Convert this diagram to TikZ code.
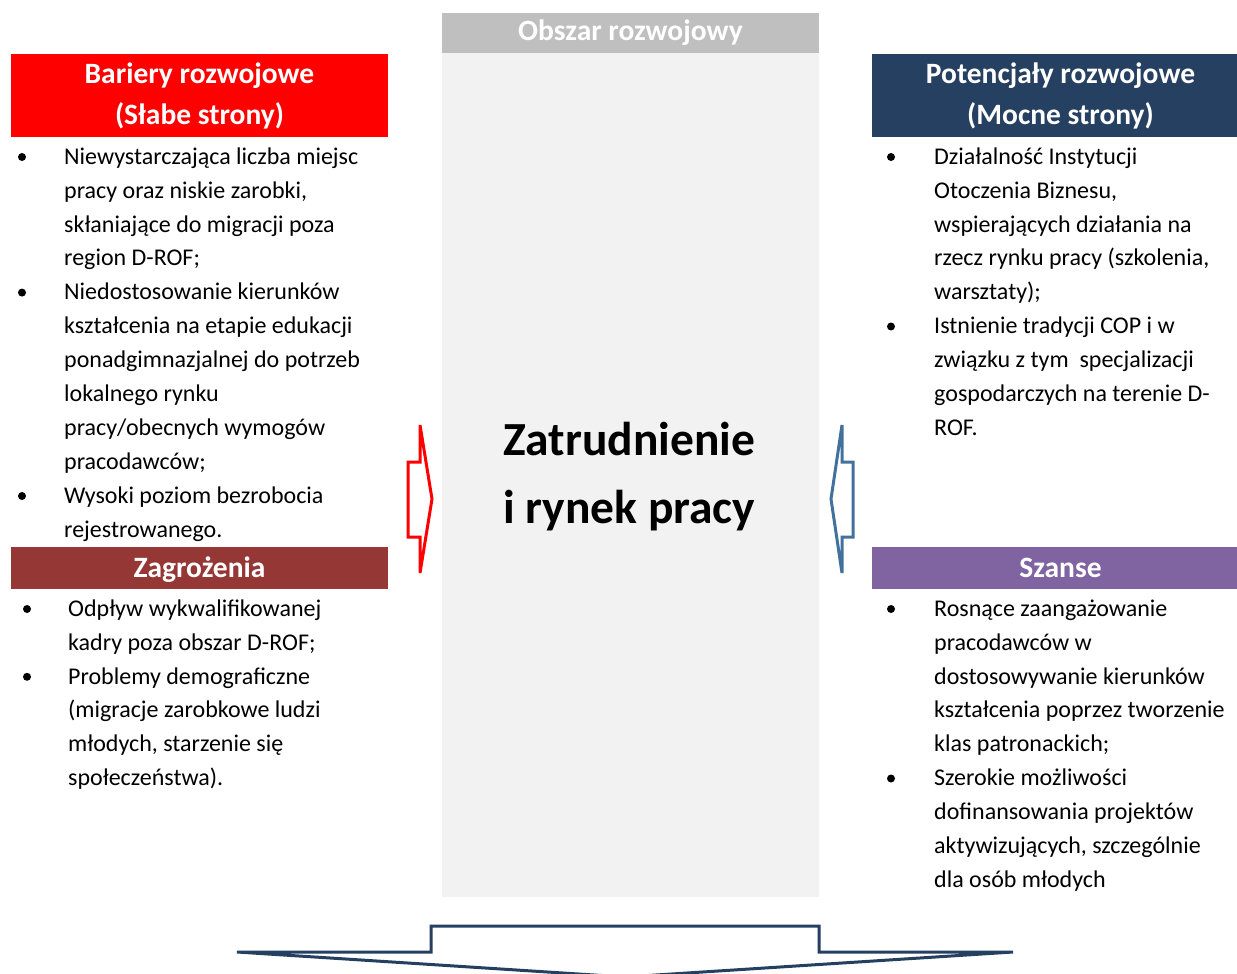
\documentclass[tikz,border=0pt]{standalone}
\usepackage{fontspec}
\setmainfont{Carlito}
\definecolor{cRed}{HTML}{FF0000}
\definecolor{cDarkRed}{HTML}{953735}
\definecolor{cNavy}{HTML}{254061}
\definecolor{cPurple}{HTML}{8064A2}
\definecolor{cGrayHead}{HTML}{BFBFBF}
\definecolor{cPanel}{HTML}{F2F2F2}
\definecolor{cSteel}{HTML}{41719C}
\definecolor{cArrowNavy}{HTML}{243F60}
\begin{document}
\begin{tikzpicture}[x=1pt,y=-1pt,
  bodytext/.style={anchor=north west, inner sep=0pt, align=left, font=\fontsize{24}{33.9}\selectfont},
  headtext/.style={anchor=base, inner sep=0pt, text=white, font=\fontsize{29.5}{40}\selectfont\bfseries},
  centertext/.style={anchor=north west, inner sep=0pt, align=left, font=\fontsize{47.5}{68}\selectfont\bfseries},
  bulletdot/.style={circle, fill=black, inner sep=0pt, minimum size=8pt},
  blockarrow/.style={line width=3pt, line join=miter, fill=white}
]
\useasboundingbox (0,0) rectangle (1237,974);
\clip (0,0) rectangle (1237,974);

% central panel
\fill[cPanel] (442,53) rectangle (819,897);
\fill[cGrayHead] (442,13) rectangle (819,53);
\node[headtext] (obszar) at (630.5,41) {Obszar rozwojowy};

% header boxes
\fill[cRed] (11,54) rectangle (388,137);
\node[headtext] (bar1) at (199.5,84) {Bariery rozwojowe};
\node[headtext] (bar2) at (199.5,124) {(Słabe strony)};

\fill[cNavy] (872,54) rectangle (1249,137);
\node[headtext] (pot1) at (1060.5,84) {Potencjały rozwojowe};
\node[headtext] (pot2) at (1060.5,124) {(Mocne strony)};

\fill[cDarkRed] (11,547) rectangle (388,589);
\node[headtext] (zag) at (199.5,577) {Zagrożenia};

\fill[cPurple] (872,547) rectangle (1249,589);
\node[headtext] (sza) at (1060.5,577) {Szanse};

% left: weaknesses
\node[bulletdot] (lb1) at (22,157) {};
\node[bodytext] (lt1) at (64,140.3) {\strut Niewystarczająca liczba miejsc\\\strut pracy oraz niskie zarobki,\\\strut skłaniające do migracji poza\\\strut region D-ROF;};
\node[bulletdot] (lb2) at (22,292.6) {};
\node[bodytext] (lt2) at (64,275.9) {\strut Niedostosowanie kierunków\\\strut kształcenia na etapie edukacji\\\strut ponadgimnazjalnej do potrzeb\\\strut lokalnego rynku\\\strut pracy/obecnych wymogów\\\strut pracodawców;};
\node[bulletdot] (lb3) at (22,496) {};
\node[bodytext] (lt3) at (64,479.3) {\strut Wysoki poziom bezrobocia\\\strut rejestrowanego.};

% left: threats
\node[bulletdot] (tb1) at (27,609) {};
\node[bodytext] (tt1) at (68,592.3) {\strut Odpływ wykwalifikowanej\\\strut kadry poza obszar D-ROF;};
\node[bulletdot] (tb2) at (27,676.8) {};
\node[bodytext] (tt2) at (68,660.1) {\strut Problemy demograficzne\\\strut (migracje zarobkowe ludzi\\\strut młodych, starzenie się\\\strut społeczeństwa).};

% right: strengths
\node[bulletdot] (sb1) at (891,157) {};
\node[bodytext] (st1) at (934,140.3) {\strut Działalność Instytucji\\\strut Otoczenia Biznesu,\\\strut wspierających działania na\\\strut rzecz rynku pracy (szkolenia,\\\strut warsztaty);};
\node[bulletdot] (sb2) at (891,326.5) {};
\node[bodytext] (st2) at (934,309.8) {\strut Istnienie tradycji COP i w\\\strut związku z tym\ \ specjalizacji\\\strut gospodarczych na terenie D-\\\strut ROF.};

% right: opportunities
\node[bulletdot] (ob1) at (891,609) {};
\node[bodytext] (ot1) at (934,592.3) {\strut Rosnące zaangażowanie\\\strut pracodawców w\\\strut dostosowywanie kierunków\\\strut kształcenia poprzez tworzenie\\\strut klas patronackich;};
\node[bulletdot] (ob2) at (891,778.5) {};
\node[bodytext] (ot2) at (934,761.8) {\strut Szerokie możliwości\\\strut dofinansowania projektów\\\strut aktywizujących, szczególnie\\\strut dla osób młodych};

% center title
\node[centertext] (title) at (503,407.4) {\strut Zatrudnienie\\\strut i rynek pracy};

% side block arrows
\draw[blockarrow, draw=cRed] (420,425) -- (420,462) -- (408,462) -- (408,537) -- (420,537) -- (420,573) -- (432,499) -- cycle;
\draw[blockarrow, draw=cSteel] (842,425) -- (842,462) -- (853,462) -- (853,537) -- (842,537) -- (842,573) -- (831,499) -- cycle;

% bottom block arrow
\draw[blockarrow, draw=cArrowNavy] (237,952) -- (431,952) -- (431,926) -- (819,926) -- (819,952) -- (1013,952) -- (625,977) -- cycle;
\end{tikzpicture}
\end{document}
